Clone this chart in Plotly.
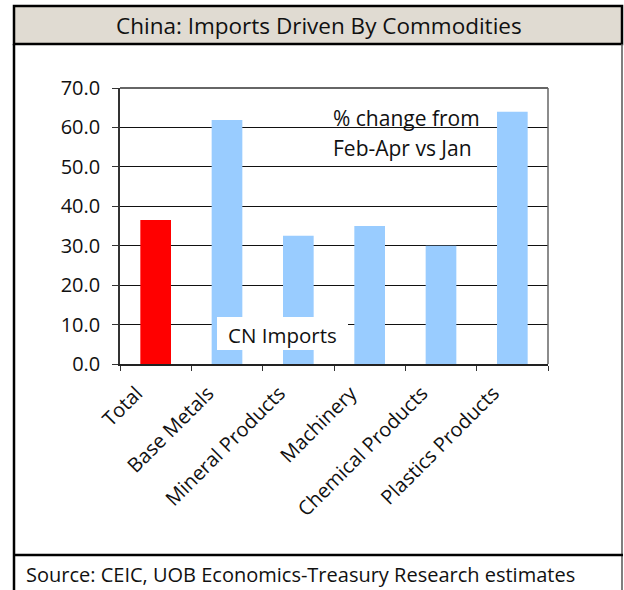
import plotly.graph_objects as go

categories = ["Total", "Base Metals", "Mineral Products", "Machinery", "Chemical Products", "Plastics Products"]
values = [36.5, 61.9, 32.5, 35.0, 30.0, 64.0]
colors = ["#FF0000", "#99CCFF", "#99CCFF", "#99CCFF", "#99CCFF", "#99CCFF"]
y_ticks = [0, 10, 20, 30, 40, 50, 60, 70]
y_tick_labels = ["0.0", "10.0", "20.0", "30.0", "40.0", "50.0", "60.0", "70.0"]

W, H = 624, 590
L, R, T, B = 120, 548, 88, 364  # plot area pixels

def px(x):
    return (x - L) / (R - L)

def py(y):
    return (B - y) / (B - T)

FONT = "'Open Sans', Lato, sans-serif"
TXT = "#111"

fig = go.Figure()
fig.add_trace(go.Bar(
    x=categories, y=values, marker=dict(color=colors, line=dict(width=0)),
    width=0.43, showlegend=False,
))

shapes = [
    dict(type="rect", xref="paper", yref="paper", x0=px(14), x1=px(622), y0=py(44), y1=py(6),
         fillcolor="#E0DBD2", line=dict(color="black", width=2.5), layer="below"),
    dict(type="line", xref="paper", yref="paper", x0=px(14), x1=px(14), y0=py(44), y1=py(600),
         line=dict(color="black", width=2.5)),
    dict(type="line", xref="paper", yref="paper", x0=px(622), x1=px(622), y0=py(44), y1=py(600),
         line=dict(color="#555", width=1.5)),
    dict(type="line", xref="paper", yref="paper", x0=px(14), x1=px(623), y0=py(555), y1=py(555),
         line=dict(color="black", width=2.5)),
    dict(type="rect", xref="paper", yref="paper", x0=px(217), x1=px(348), y0=py(350), y1=py(317),
         fillcolor="white", line=dict(width=0), layer="above"),
]

annotations = [
    dict(text="China: Imports Driven By Commodities", xref="paper", yref="paper",
         x=px(319), y=py(26), showarrow=False, xanchor="center", yanchor="middle",
         font=dict(family=FONT, size=22.5, color=TXT)),
    dict(text="Source: CEIC, UOB Economics-Treasury Research estimates", xref="paper", yref="paper",
         x=px(24), y=py(574), showarrow=False, xanchor="left", yanchor="middle",
         font=dict(family=FONT, size=20, color=TXT)),
    dict(text="CN Imports", xref="paper", yref="paper",
         x=px(282), y=py(335), showarrow=False, xanchor="center", yanchor="middle",
         font=dict(family=FONT, size=20.5, color=TXT)),
    dict(text="% change from", xref="paper", yref="paper",
         x=px(331), y=py(118), showarrow=False, xanchor="left", yanchor="middle",
         font=dict(family=FONT, size=21, color=TXT)),
    dict(text="Feb-Apr vs Jan", xref="paper", yref="paper",
         x=px(331), y=py(148), showarrow=False, xanchor="left", yanchor="middle",
         font=dict(family=FONT, size=21, color=TXT)),
]

fig.update_layout(
    width=W, height=H,
    margin=dict(l=L, r=W - R, t=T, b=H - B, pad=0),
    paper_bgcolor="white", plot_bgcolor="white",
    shapes=shapes, annotations=annotations,
    xaxis=dict(
        type="category", tickangle=-45, tickson="boundaries", ticks="outside", ticklen=5,
        tickcolor="#333", showline=True, linecolor="#222", linewidth=1.5,
        showgrid=False, tickfont=dict(family=FONT, size=20, color=TXT),
        range=[-0.5, 5.5], ticklabelshift=-19, ticklabelstandoff=8,
    ),
    yaxis=dict(
        range=[0, 70], tickvals=y_ticks, ticktext=y_tick_labels, ticks="outside", ticklen=6,
        tickcolor="#333", showline=True, linecolor="#333", linewidth=1.5,
        showgrid=True, gridcolor="#111", gridwidth=1, zeroline=False,
        tickfont=dict(family=FONT, size=20, color=TXT), ticklabelstandoff=8,
    ),
)

fig.add_shape(type="line", xref="paper", yref="paper", x0=0, x1=1, y0=1, y1=1,
              line=dict(color="#333", width=1.5))
fig.add_shape(type="line", xref="paper", yref="paper", x0=1, x1=1, y0=0, y1=1,
              line=dict(color="#666", width=1.5))

fig.write_html("out.html", config={"displayModeBar": False},
               post_script="document.body.style.margin='0';document.body.style.overflow='hidden';")
